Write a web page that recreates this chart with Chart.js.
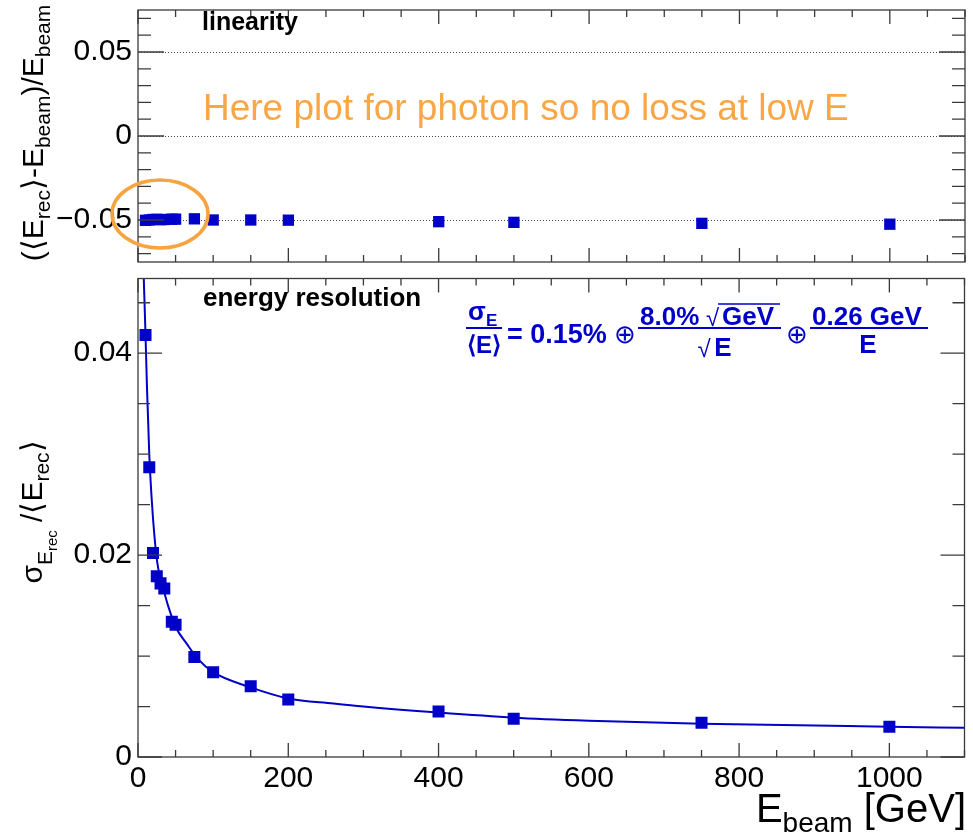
<!DOCTYPE html>
<html>
<head>
<meta charset="utf-8">
<title>linearity and energy resolution</title>
<script src="https://cdn.jsdelivr.net/npm/chart.js@4/dist/chart.umd.min.js"></script>
<style>
  html, body { margin: 0; padding: 0; background: #fff; }
  #wrap { position: relative; width: 973px; height: 839px; }
  canvas { position: absolute; left: 0; }
  #linCanvas { top: 0; }
  #resCanvas { top: 270px; }
</style>
</head>
<body>
<div id="wrap">
  <canvas id="linCanvas" width="973" height="270" style="width:973px;height:270px"></canvas>
  <canvas id="resCanvas" width="973" height="569" style="width:973px;height:569px"></canvas>
</div>
<script>
// beam energies [GeV]
const beamE = [10, 15, 20, 25, 30, 35, 45, 50, 75, 100, 150, 200, 400, 500, 750, 1000];
// (<E_rec> - E_beam) / E_beam
const linearity = [-0.0502, -0.0500, -0.0497, -0.0496, -0.0498, -0.0497, -0.0495, -0.0495,
                   -0.0493, -0.0500, -0.0500, -0.0501, -0.0510, -0.0514, -0.0520, -0.0525];
// sigma_E / <E_rec>
const resolution = [0.0418, 0.0287, 0.0202, 0.0179, 0.0172, 0.0167, 0.0134, 0.0131,
                    0.0099, 0.0084, 0.0070, 0.0057, 0.0045, 0.0038, 0.0034, 0.0030];
// fitted curve
const fitE   = [7.5, 8.5, 10, 12, 15, 18, 20, 25, 30, 35, 40, 50, 65, 80, 100,
                150, 200, 260, 300, 400, 500, 600, 750, 1000, 1100];
const fitRes = [0.0478, 0.0455, 0.0418, 0.0365, 0.0300, 0.0258, 0.0236, 0.0196, 0.0176, 0.0163,
                0.0150, 0.0129, 0.0112, 0.0097, 0.0084, 0.0069, 0.0058, 0.0053, 0.0050, 0.0044,
                0.0039, 0.0036, 0.0033, 0.0030, 0.0029];

// tick labels
const xTicks = [0, 200, 400, 600, 800, 1000];
const linTicks = [-0.05, 0, 0.05];
const resTicks = [0, 0.02, 0.04];

const F = '"Liberation Sans", Arial, Helvetica, sans-serif';
const N = s => `${s}px ${F}`;
const B = s => `bold ${s}px ${F}`;
const BLUE = '#0000c8';

function fmt(v) {
  const s = String(Number(v.toFixed(3)));
  return v < 0 ? '\u2212' + s.slice(1) : s;
}

// draws text pieces one after another (sub/superscripts via dy)
function drawRich(ctx, runs, x, y, rot, align) {
  ctx.save();
  ctx.translate(x, y);
  ctx.rotate(rot);
  ctx.textAlign = 'left';
  ctx.textBaseline = 'alphabetic';
  let w = 0;
  runs.forEach(r => { ctx.font = r.font; w += ctx.measureText(r.t).width; });
  let cx = align === 'center' ? -w / 2 : (align === 'right' ? -w : 0);
  runs.forEach(r => {
    ctx.font = r.font;
    ctx.fillStyle = r.color || '#000';
    ctx.fillText(r.t, cx, r.dy || 0);
    cx += ctx.measureText(r.t).width;
  });
  ctx.restore();
}

// ROOT-like frame with inward ticks on all four sides
const frameTicks = {
  id: 'frameTicks',
  beforeDatasetsDraw(chart, args, o) {
    if (!o.dotted) return;
    const { ctx, chartArea: a, scales: { y } } = chart;
    ctx.save();
    ctx.setLineDash([1, 2]);
    ctx.strokeStyle = '#444';
    ctx.lineWidth = 1;
    o.dotted.forEach(v => {
      const py = Math.round(y.getPixelForValue(v)) + 0.5;
      ctx.beginPath();
      ctx.moveTo(a.left, py);
      ctx.lineTo(a.right, py);
      ctx.stroke();
    });
    ctx.restore();
  },
  afterDatasetsDraw(chart, args, o) {
    const { ctx, chartArea: a, scales: { x, y } } = chart;
    ctx.save();
    ctx.strokeStyle = '#3a3a3a';
    ctx.lineWidth = 1.3;
    ctx.beginPath();
    const nx = Math.floor((x.max - x.min) / o.xStep + 1e-6);
    for (let i = 0; i <= nx; i++) {
      const v = x.min + i * o.xStep;
      const len = (i % o.xEvery === 0) ? o.xLen[0] : o.xLen[1];
      const px = x.getPixelForValue(v);
      ctx.moveTo(px, a.bottom); ctx.lineTo(px, a.bottom - len);
      ctx.moveTo(px, a.top); ctx.lineTo(px, a.top + len);
    }
    const i0 = Math.ceil(y.min / o.yStep - 1e-6), i1 = Math.floor(y.max / o.yStep + 1e-6);
    for (let i = i0; i <= i1; i++) {
      const py = y.getPixelForValue(i * o.yStep);
      const len = (((i % o.yEvery) + o.yEvery) % o.yEvery === 0) ? o.yLen[0] : o.yLen[1];
      ctx.moveTo(a.left, py); ctx.lineTo(a.left + len, py);
      ctx.moveTo(a.right, py); ctx.lineTo(a.right - len, py);
    }
    ctx.stroke();
    ctx.strokeRect(a.left, a.top, a.right - a.left, a.bottom - a.top);
    ctx.restore();
  }
};

const linLabels = {
  id: 'linLabels',
  afterDraw(chart) {
    const ctx = chart.ctx;
    ctx.save();
    ctx.fillStyle = '#000';
    ctx.font = B(25);
    ctx.fillText('linearity', 202, 30);
    ctx.fillStyle = '#f9a646';
    ctx.font = N(37);
    ctx.fillText('Here plot for photon so no loss at low E', 203, 120);
    ctx.strokeStyle = '#f7a33f';
    ctx.lineWidth = 3.5;
    ctx.beginPath();
    ctx.ellipse(160, 214, 48, 34, 0, 0, Math.PI * 2);
    ctx.stroke();
    ctx.restore();
    drawRich(ctx, [
      { t: '(\u27e8E', font: N(30) },
      { t: 'rec', font: N(21), dy: 7 },
      { t: '\u27e9-E', font: N(30) },
      { t: 'beam', font: N(21), dy: 7 },
      { t: ')/E', font: N(30) },
      { t: 'beam', font: N(21), dy: 7 }
    ], 43, 133, -Math.PI / 2, 'center');
  }
};

const resLabels = {
  id: 'resLabels',
  afterDraw(chart) {
    const ctx = chart.ctx;
    const oy = -270;
    ctx.save();
    ctx.fillStyle = '#000';
    ctx.font = B(26);
    ctx.fillText('energy resolution', 203, 306 + oy);

    // formula
    ctx.fillStyle = BLUE;
    ctx.strokeStyle = BLUE;
    ctx.lineWidth = 2;
    ctx.textAlign = 'left';
    ctx.font = B(26); ctx.fillText('\u03c3', 468, 320 + oy);
    ctx.font = B(17); ctx.fillText('E', 486, 326 + oy);
    ctx.textAlign = 'center';
    ctx.font = B(24); ctx.fillText('\u27e8E\u27e9', 484, 353 + oy);
    ctx.textAlign = 'left';
    ctx.font = B(27); ctx.fillText('= 0.15%', 507, 343 + oy);
    ctx.font = N(26); ctx.fillText('\u2295', 614, 343 + oy);
    ctx.font = B(26); ctx.fillText('8.0%', 640, 325 + oy);
    ctx.font = N(24); ctx.fillText('\u221a', 706, 326 + oy);
    ctx.font = B(26); ctx.fillText('GeV', 722, 325 + oy);
    ctx.textAlign = 'center';
    ctx.font = N(24); ctx.fillText('\u221a', 704, 357 + oy);
    ctx.font = B(26); ctx.fillText('E', 723, 356 + oy);
    ctx.textAlign = 'left';
    ctx.font = N(26); ctx.fillText('\u2295', 786, 343 + oy);
    ctx.font = B(26); ctx.fillText('0.26 GeV', 812, 325 + oy);
    ctx.textAlign = 'center';
    ctx.fillText('E', 868, 353 + oy);
    ctx.beginPath();
    ctx.moveTo(466, 328 + oy); ctx.lineTo(502, 328 + oy);
    ctx.moveTo(638, 328 + oy); ctx.lineTo(781, 328 + oy);
    ctx.moveTo(810, 328 + oy); ctx.lineTo(928, 328 + oy);
    ctx.stroke();
    ctx.lineWidth = 1.5;
    ctx.beginPath();
    ctx.moveTo(718, 304 + oy); ctx.lineTo(780, 304 + oy);
    ctx.stroke();
    ctx.restore();

    drawRich(ctx, [
      { t: '\u03c3', font: N(30) },
      { t: 'E', font: N(21), dy: 10 },
      { t: 'rec', font: N(15), dy: 15 },
      { t: ' /\u27e8E', font: N(30) },
      { t: 'rec', font: N(21), dy: 7 },
      { t: '\u27e9', font: N(30) }
    ], 42, 512 + oy, -Math.PI / 2, 'center');

    drawRich(ctx, [
      { t: 'E', font: N(40) },
      { t: 'beam', font: N(28), dy: 10 },
      { t: ' [GeV]', font: N(40) }
    ], 966, 822 + oy, 0, 'right');
  }
};

Chart.register(frameTicks);

const xBase = {
  type: 'linear', min: 0, max: 1100,
  grid: { display: false, drawTicks: false },
  border: { display: false }
};

function yAxis(min, max, vals) {
  return {
    type: 'linear', min: min, max: max,
    grid: { display: false, drawTicks: false },
    border: { display: false },
    afterFit: s => { s.width = 138; s.paddingTop = 0; s.paddingBottom = 0; },
    afterBuildTicks: s => { s.ticks = vals.map(v => ({ value: v })); },
    ticks: { color: '#000', font: { family: F, size: 30 }, padding: 6, callback: v => fmt(v) }
  };
}

new Chart(document.getElementById('linCanvas'), {
  type: 'scatter',
  data: {
    datasets: [{
      data: beamE.map((e, i) => ({ x: e, y: linearity[i] })),
      pointStyle: 'rect', pointRadius: 8,
      backgroundColor: BLUE, borderColor: BLUE, borderWidth: 0
    }]
  },
  options: {
    responsive: false, animation: false,
    layout: { padding: { top: 10, right: 6, bottom: 5, left: 0 } },
    plugins: {
      legend: { display: false }, tooltip: { enabled: false },
      frameTicks: { xStep: 50, xEvery: 4, xLen: [14, 7], yStep: 0.01, yEvery: 5, yLen: [26, 13], dotted: linTicks }
    },
    scales: {
      x: Object.assign({}, xBase, { display: false }),
      y: yAxis(-0.075, 0.075, linTicks)
    }
  },
  plugins: [linLabels]
});

new Chart(document.getElementById('resCanvas'), {
  type: 'scatter',
  data: {
    datasets: [{
      data: beamE.map((e, i) => ({ x: e, y: resolution[i] })),
      pointStyle: 'rect', pointRadius: 8.5,
      backgroundColor: BLUE, borderColor: BLUE, borderWidth: 0,
      order: 0
    }, {
      type: 'line',
      data: fitE.map((e, i) => ({ x: e, y: fitRes[i] })),
      showLine: true, pointRadius: 0, borderColor: BLUE, borderWidth: 2,
      cubicInterpolationMode: 'monotone', fill: false,
      order: 1
    }]
  },
  options: {
    responsive: false, animation: false,
    layout: { padding: { top: 5, right: 6, bottom: 0, left: 0 } },
    plugins: {
      legend: { display: false }, tooltip: { enabled: false },
      frameTicks: { xStep: 50, xEvery: 4, xLen: [14, 7], yStep: 0.005, yEvery: 4, yLen: [24, 12] }
    },
    scales: {
      x: Object.assign({}, xBase, {
        afterFit: s => { s.height = 82; s.paddingLeft = 0; s.paddingRight = 0; },
        afterBuildTicks: s => { s.ticks = xTicks.map(v => ({ value: v })); },
        ticks: { color: '#000', font: { family: F, size: 30 }, padding: 4, maxRotation: 0,
                 autoSkip: false, callback: v => String(v) }
      }),
      y: yAxis(0, 0.0474, resTicks)
    }
  },
  plugins: [resLabels]
});
</script>
</body>
</html>
